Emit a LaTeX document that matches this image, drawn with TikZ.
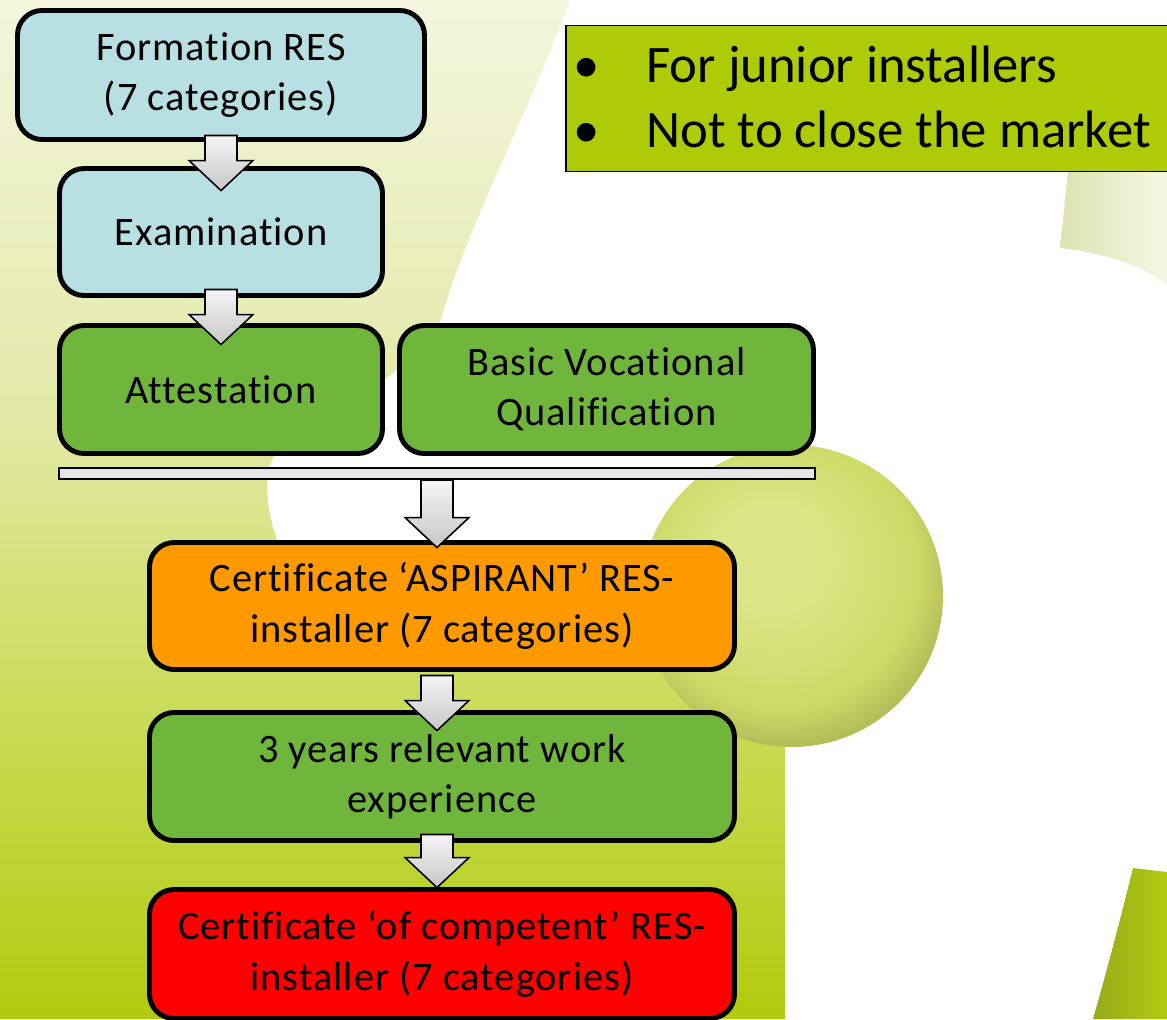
\documentclass[tikz,border=0pt]{standalone}
\usepackage{fontspec}
\setmainfont{Carlito}[Ligatures={TeX,NoCommon}]
\newfontfamily\boxfam{Carlito}[Ligatures={TeX,NoCommon}, LetterSpace=2.4]
\usetikzlibrary{calc}
\definecolor{boxblue}{HTML}{B8DFE3}
\definecolor{boxgreen}{HTML}{70B63C}
\definecolor{boxorange}{HTML}{FF9900}
\definecolor{boxred}{HTML}{FF0000}
\definecolor{notelime}{HTML}{AFCB08}
\definecolor{bargray}{HTML}{E6E6E6}
\definecolor{bgtop}{HTML}{F4F6DE}
\definecolor{bgmidA}{HTML}{E2E9A6}
\definecolor{bgmidB}{HTML}{C9DB55}
\definecolor{bgbot}{HTML}{B2CB0E}
\definecolor{ballin}{HTML}{DCE688}
\definecolor{ballmid}{HTML}{CCDA66}
\definecolor{ballout}{HTML}{B4BF5A}
\definecolor{paleA}{HTML}{DCE2B2}
\definecolor{paleB}{HTML}{F6F8E4}
\definecolor{oliveA}{HTML}{97AB1A}
\definecolor{oliveB}{HTML}{B2CA10}
\pgfdeclareverticalshading{leftbg}{100bp}{color(0bp)=(bgbot); color(25bp)=(bgbot); color(39.7bp)=(bgmidB); color(54.4bp)=(bgmidA); color(75bp)=(bgtop); color(100bp)=(bgtop)}
\pgfdeclareradialshading{ballshade}{\pgfpoint{-4bp}{8bp}}{color(0bp)=(ballin); color(8bp)=(ballin); color(23bp)=(ballmid); color(28bp)=(ballout); color(50bp)=(ballout)}
\def\pxu{0.02cm}
\newcommand{\blockarrow}[2]{%
  \draw[blockarr] let \p1=#1, \p2=#2 in
    (\x1-0.32cm,\y1) -- (\x1-0.32cm,\y2+0.6cm) -- (\x1-0.64cm,\y2+0.6cm) -- (\x1,\y2)
    -- (\x1+0.64cm,\y2+0.6cm) -- (\x1+0.32cm,\y2+0.6cm) -- (\x1+0.32cm,\y1) -- cycle;}
\begin{document}
\begin{tikzpicture}[x=0.02cm, y=-0.02cm,
  box/.style={draw=black, line width=2.8pt, rounded corners=14pt, align=center,
    inner sep=0pt, font=\boxfam\fontsize{23}{28.6}\selectfont},
  blockarr/.style={draw=black, line width=0.9pt, line join=miter,
    top color=black!4, bottom color=black!22},
  thinbox/.style={draw=black, line width=1.1pt, inner sep=0pt}]
\useasboundingbox (0,0) rectangle (1167,1019);
\clip (0,0) rectangle (1167,1019);
\fill[white] (0,0) rectangle (1167,1019);
% background logo shapes
\shade[shading=leftbg] (0,0) -- (570,0) .. controls (530,110) and (470,220) .. (443,313)
  .. controls (420,390) and (285,410) .. (268,470)
  .. controls (262,530) and (290,600) .. (380,640)
  .. controls (470,665) and (560,660) .. (640,658) -- (785,658) -- (785,1019) -- (0,1019) -- cycle;
\shade[shading=ballshade] (792,596) circle (151);
\shade[left color=paleA, right color=paleB] (1068,172) -- (1060,248)
  .. controls (1100,252) and (1140,264) .. (1167,285) -- (1167,172) -- cycle;
\shade[left color=oliveA, right color=oliveB] (1133,868) -- (1167,872) -- (1167,1019) -- (1093,1019)
  .. controls (1110,960) and (1125,900) .. (1133,868) -- cycle;
% boxes
\node[box, fill=boxblue, minimum width=407*\pxu, minimum height=129*\pxu] (form) at (221,75) {Formation RES\\(7 categories)};
\node[box, fill=boxblue, minimum width=323*\pxu, minimum height=127*\pxu] (exam) at (221,232) {Examination};
\node[box, fill=boxgreen, minimum width=323*\pxu, minimum height=128*\pxu] (att) at (221,389.5) {Attestation};
\node[box, fill=boxgreen, minimum width=414*\pxu, minimum height=128*\pxu] (bvq) at (606.5,389.5) {Basic Vocational\\Qualification};
\node[thinbox, fill=bargray, minimum width=756*\pxu, minimum height=11*\pxu] (bar) at (437,473.5) {};
\node[box, fill=boxorange, minimum width=585*\pxu, minimum height=127*\pxu] (aspir) at (442,606) {Certificate ‘ASPIRANT’ RES-\\installer (7 categories)};
\node[box, fill=boxgreen, minimum width=585*\pxu, minimum height=128*\pxu] (exp) at (442,776.5) {3 years relevant work\\experience};
\node[box, fill=boxred, minimum width=585*\pxu, minimum height=129*\pxu] (comp) at (442,954) {Certificate ‘of competent’ RES-\\installer (7 categories)};
\node[thinbox, fill=notelime, minimum width=608*\pxu, minimum height=146*\pxu,
  font=\fontsize{30}{37}\selectfont] (note) at (870,98.5)
  {\raisebox{-0.07cm}[\height][\depth]{\begin{tabular}{@{}l@{\hspace{0.94cm}}l@{}}\textbullet & For junior installers\\ \textbullet & Not to close the market\end{tabular}}\kern0.32cm};
% block arrows
\blockarrow{($(form.south)+(0,-6.5)$)}{($(exam.north)+(0,24.5)$)}
\blockarrow{($(exam.south)+(0,-8.5)$)}{($(att.north)+(0,21.5)$)}
\blockarrow{($(bar.south)+(0,0)$)}{($(aspir.north)+(0,7.5)$)}
\blockarrow{($(aspir.south)+(-5,3.5)$)}{($(exp.north)+(0,20.5)$)}
\blockarrow{($(exp.south)+(-5,-8.5)$)}{($(comp.north)+(0,0.5)$)}
\end{tikzpicture}
\end{document}
